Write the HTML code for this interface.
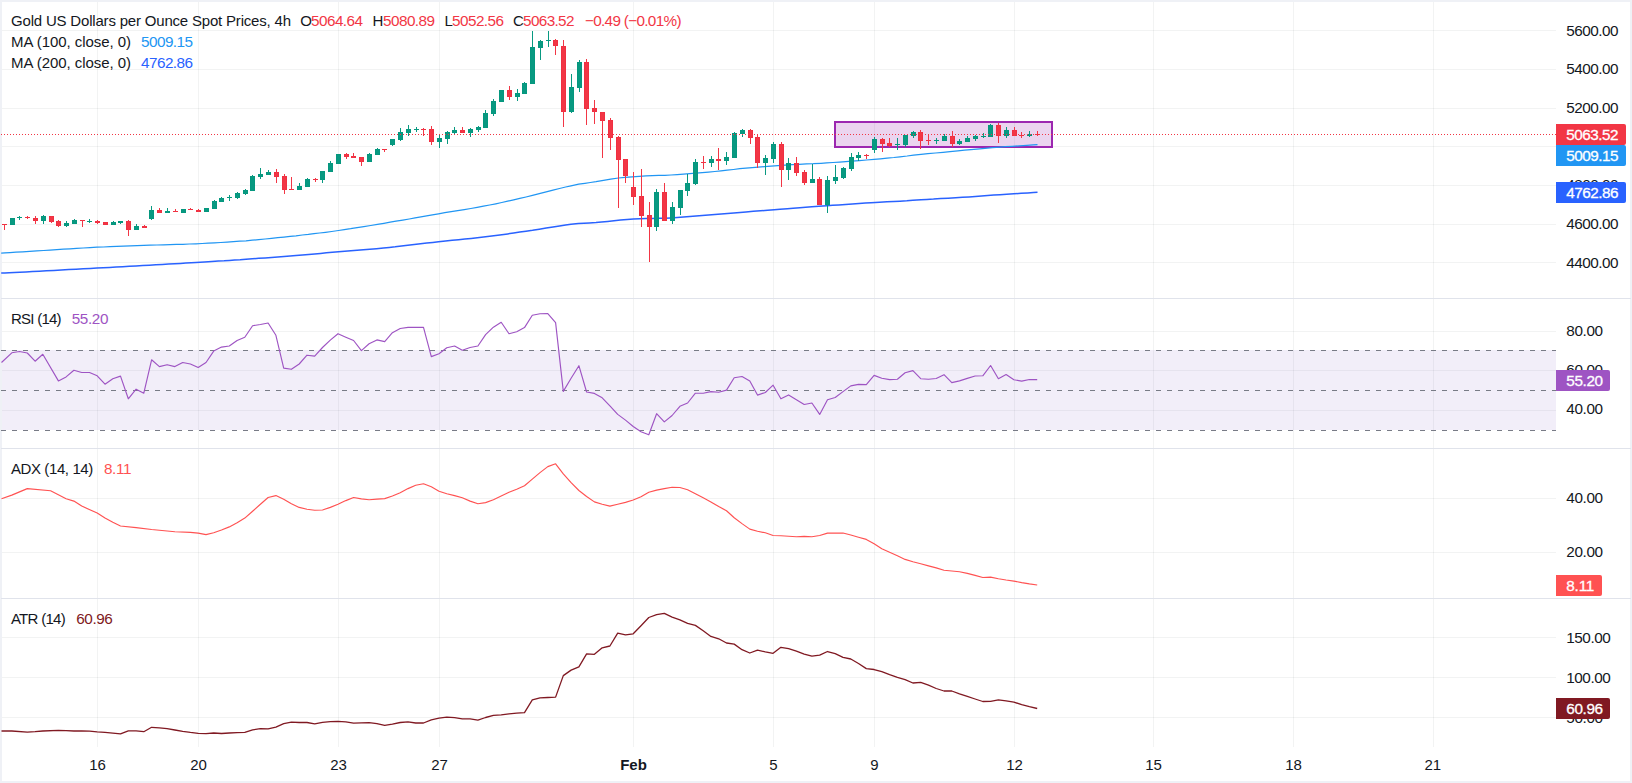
<!DOCTYPE html>
<html lang="en"><head><meta charset="utf-8"><title>Gold US Dollars per Ounce Spot Prices, 4h</title>
<style>html,body{margin:0;padding:0;background:#fff;}body{width:1632px;height:783px;overflow:hidden;}svg{display:block;}text{font-family:"Liberation Sans", sans-serif;font-size:15px;fill:#131722;stroke:#131722;stroke-width:0;}.n{font-size:15.3px;}.w{fill:#fff;stroke:#fff;stroke-width:.3px;font-size:15.3px;}.b{font-weight:bold;}</style></head><body>
<svg width="1632" height="783" viewBox="0 0 1632 783">
<rect x="0" y="0" width="1632" height="783" fill="#eff1f6"/>
<rect x="2" y="2" width="1628" height="779" fill="#ffffff"/>
<g shape-rendering="crispEdges" fill="#2a2e39" fill-opacity="0.06">
<rect x="97" y="2" width="1" height="745"/>
<rect x="198" y="2" width="1" height="745"/>
<rect x="338" y="2" width="1" height="745"/>
<rect x="439" y="2" width="1" height="745"/>
<rect x="633" y="2" width="1" height="745"/>
<rect x="773" y="2" width="1" height="745"/>
<rect x="874" y="2" width="1" height="745"/>
<rect x="1014" y="2" width="1" height="745"/>
<rect x="1153" y="2" width="1" height="745"/>
<rect x="1293" y="2" width="1" height="745"/>
<rect x="1433" y="2" width="1" height="745"/>
<rect x="2" y="30" width="1554" height="1"/>
<rect x="2" y="69" width="1554" height="1"/>
<rect x="2" y="108" width="1554" height="1"/>
<rect x="2" y="146" width="1554" height="1"/>
<rect x="2" y="185" width="1554" height="1"/>
<rect x="2" y="224" width="1554" height="1"/>
<rect x="2" y="262" width="1554" height="1"/>
<rect x="2" y="331" width="1554" height="1"/>
<rect x="2" y="370" width="1554" height="1"/>
<rect x="2" y="410" width="1554" height="1"/>
<rect x="2" y="498" width="1554" height="1"/>
<rect x="2" y="552" width="1554" height="1"/>
<rect x="2" y="637" width="1554" height="1"/>
<rect x="2" y="677" width="1554" height="1"/>
<rect x="2" y="717" width="1554" height="1"/>
</g>
<g shape-rendering="crispEdges" fill="#e0e3eb">
<rect x="1" y="298" width="1630" height="1"/>
<rect x="1" y="448" width="1630" height="1"/>
<rect x="1" y="598" width="1630" height="1"/>
</g>
<rect x="2" y="350" width="1554" height="80" fill="#7e57c2" fill-opacity="0.1" shape-rendering="crispEdges"/>
<g shape-rendering="crispEdges" stroke="#787b86" stroke-width="1" stroke-dasharray="5 6">
<line x1="1" y1="350.5" x2="1556" y2="350.5"/>
<line x1="1" y1="390.5" x2="1556" y2="390.5"/>
<line x1="1" y1="430.5" x2="1556" y2="430.5"/>
</g>
<rect x="835" y="122" width="217" height="25" fill="#9c27b0" fill-opacity="0.2" stroke="#9c27b0" stroke-width="2" shape-rendering="crispEdges"/>
<polyline points="1.2,253.2 5.0,252.9 10.0,252.6 16.0,252.2 22.7,251.8 29.7,251.4 36.8,250.9 43.7,250.5 50.0,250.1 56.8,249.7 63.4,249.2 70.0,248.8 76.5,248.4 83.2,248.0 90.0,247.6 97.0,247.2 103.4,247.0 110.0,246.7 116.7,246.4 123.6,246.1 130.4,245.9 137.1,245.7 143.7,245.4 150.0,245.2 156.9,245.0 163.5,244.8 170.0,244.6 176.4,244.4 182.8,244.3 189.3,244.0 196.0,243.8 202.1,243.5 208.2,243.2 214.5,242.8 220.8,242.5 227.1,242.1 233.4,241.7 239.7,241.2 246.0,240.8 252.3,240.2 258.7,239.6 265.1,239.0 271.5,238.4 277.8,237.7 284.0,237.1 290.1,236.4 296.0,235.8 302.3,235.0 308.3,234.4 314.0,233.7 319.6,233.0 325.5,232.3 331.7,231.5 338.5,230.5 344.3,229.6 350.6,228.7 357.1,227.6 363.8,226.6 370.7,225.5 377.4,224.4 383.9,223.3 390.2,222.2 396.0,221.2 402.8,220.1 409.2,219.0 415.1,217.9 420.9,216.9 426.6,215.8 432.4,214.8 438.5,213.8 444.8,212.7 451.2,211.7 457.7,210.6 464.3,209.6 470.8,208.5 477.2,207.4 483.5,206.2 489.7,205.0 495.8,203.8 501.8,202.5 507.7,201.2 513.7,199.8 519.8,198.4 526.0,197.0 532.5,195.4 539.3,193.7 546.2,191.9 553.0,190.2 559.5,188.5 565.6,187.0 571.0,185.8 578.7,184.2 584.9,183.3 590.4,182.5 596.0,181.7 603.5,180.4 610.7,179.1 618.5,178.0 625.1,177.3 632.1,176.8 639.2,176.3 646.0,175.9 652.4,175.6 658.7,175.4 664.8,175.3 671.0,175.0 677.2,174.6 683.5,174.1 689.8,173.6 696.0,173.1 702.2,172.6 708.5,172.1 714.8,171.5 721.0,170.9 727.2,170.2 733.5,169.5 739.8,168.7 746.0,168.1 752.2,167.6 758.3,167.1 764.5,166.7 771.0,166.2 777.9,165.7 785.2,165.2 792.4,164.7 799.0,164.3 806.5,163.9 813.3,163.7 821.0,163.3 826.7,162.9 833.0,162.5 839.5,162.1 845.8,161.6 851.5,161.2 859.5,160.6 866.5,160.0 874.0,159.4 880.4,158.8 887.1,158.1 893.8,157.5 900.0,156.8 907.1,156.0 913.6,155.1 921.0,154.3 927.9,153.6 935.5,153.0 943.1,152.3 950.0,151.7 957.8,150.9 964.6,150.2 971.0,149.6 979.8,148.8 987.5,148.1 992.4,147.7 1000.0,147.1 1005.2,146.7 1012.0,146.3 1019.5,145.8 1026.9,145.3 1033.1,144.9 1037.5,144.6" fill="none" stroke="#2196f3" stroke-width="1.25" stroke-linejoin="round" stroke-linecap="butt"/>
<polyline points="1.2,273.1 4.8,273.0 9.2,272.7 14.2,272.5 19.8,272.2 25.9,271.9 32.5,271.5 39.4,271.2 46.5,270.8 53.9,270.4 61.3,270.0 68.7,269.6 76.1,269.2 83.3,268.8 90.3,268.5 97.0,268.1 103.2,267.8 109.6,267.4 116.1,267.1 122.7,266.7 129.3,266.3 136.0,265.9 142.7,265.6 149.4,265.2 155.9,264.8 162.3,264.5 168.6,264.1 174.6,263.7 180.4,263.4 185.9,263.1 191.2,262.8 196.0,262.5 204.6,262.0 211.9,261.5 218.3,261.1 224.1,260.8 229.4,260.4 234.6,260.0 240.1,259.7 246.0,259.2 252.3,258.8 258.7,258.3 265.1,257.9 271.5,257.4 277.8,256.9 284.0,256.4 290.1,256.0 296.0,255.5 302.4,255.0 308.6,254.4 314.6,253.9 320.5,253.4 326.4,252.8 332.4,252.3 338.5,251.8 344.7,251.2 350.9,250.8 357.1,250.3 363.4,249.8 369.8,249.3 376.5,248.7 383.5,248.0 389.2,247.4 395.2,246.8 401.5,246.0 407.8,245.3 414.2,244.6 420.5,243.8 426.8,243.1 432.8,242.4 438.5,241.8 445.5,241.0 452.2,240.3 458.6,239.7 464.9,239.0 471.1,238.4 477.3,237.7 483.5,237.0 489.7,236.2 495.8,235.5 501.8,234.7 507.7,233.9 513.7,233.0 519.8,232.1 526.0,231.2 532.5,230.3 539.3,229.2 546.2,228.1 553.0,226.9 559.5,225.9 565.6,225.0 571.0,224.2 578.4,223.5 584.0,223.2 589.3,222.9 596.0,222.5 601.5,222.0 607.6,221.4 614.0,220.8 620.5,220.1 627.1,219.6 633.5,219.1 639.8,218.8 646.0,218.6 652.2,218.5 658.5,218.3 664.8,218.2 671.0,217.9 677.2,217.5 683.5,217.1 689.8,216.6 696.0,216.0 702.2,215.5 708.5,215.0 714.8,214.5 721.1,214.0 727.5,213.4 733.8,212.9 740.0,212.4 746.0,211.9 753.3,211.3 760.5,210.8 767.6,210.2 774.2,209.7 780.0,209.3 787.4,208.7 793.1,208.2 799.8,207.7 805.6,207.3 811.9,206.8 818.8,206.3 827.0,205.7 832.5,205.3 838.8,204.9 845.5,204.4 852.3,203.9 859.0,203.5 865.4,203.1 871.0,202.7 879.5,202.2 886.9,201.8 893.7,201.5 900.0,201.2 906.8,200.8 912.8,200.3 921.0,199.8 926.8,199.4 933.5,199.1 940.7,198.6 948.2,198.2 955.6,197.7 962.5,197.3 969.0,196.9 975.3,196.4 981.5,196.0 987.6,195.6 993.8,195.1 1000.0,194.7 1006.7,194.3 1013.9,193.8 1021.1,193.3 1027.8,192.9 1033.4,192.6 1037.5,192.3" fill="none" stroke="#2962ff" stroke-width="1.5" stroke-linejoin="round" stroke-linecap="butt"/>
<g shape-rendering="crispEdges">
<g fill="#05977e"><rect x="10" y="218" width="5" height="7"/><rect x="17" y="217" width="5" height="1"/><rect x="41" y="216" width="5" height="5"/><rect x="64" y="223" width="5" height="3"/><rect x="72" y="220" width="5" height="4"/><rect x="87" y="221" width="5" height="1"/><rect x="111" y="222" width="5" height="3"/><rect x="118" y="221" width="5" height="2"/><rect x="134" y="226" width="5" height="4"/><rect x="149" y="210" width="5" height="9"/><rect x="165" y="211" width="5" height="2"/><rect x="181" y="209" width="5" height="4"/><rect x="204" y="208" width="5" height="4"/><rect x="212" y="201" width="5" height="8"/><rect x="219" y="198" width="5" height="4"/><rect x="227" y="197" width="5" height="1"/><rect x="235" y="193" width="5" height="5"/><rect x="243" y="190" width="5" height="4"/><rect x="250" y="176" width="5" height="15"/><rect x="258" y="174" width="5" height="3"/><rect x="266" y="172" width="5" height="3"/><rect x="297" y="186" width="5" height="4"/><rect x="305" y="179" width="5" height="8"/><rect x="320" y="171" width="5" height="9"/><rect x="328" y="163" width="5" height="9"/><rect x="336" y="154" width="5" height="10"/><rect x="367" y="154" width="5" height="8"/><rect x="375" y="149" width="5" height="6"/><rect x="390" y="139" width="5" height="6"/><rect x="398" y="132" width="5" height="8"/><rect x="406" y="129" width="5" height="4"/><rect x="414" y="129" width="5" height="1"/><rect x="437" y="138" width="5" height="4"/><rect x="445" y="132" width="5" height="7"/><rect x="452" y="130" width="5" height="3"/><rect x="468" y="129" width="5" height="4"/><rect x="476" y="127" width="5" height="3"/><rect x="483" y="113" width="5" height="15"/><rect x="491" y="101" width="5" height="13"/><rect x="499" y="90" width="5" height="12"/><rect x="515" y="93" width="5" height="4"/><rect x="522" y="83" width="5" height="11"/><rect x="530" y="47" width="5" height="37"/><rect x="538" y="41" width="5" height="7"/><rect x="546" y="40" width="5" height="1"/><rect x="569" y="87" width="5" height="25"/><rect x="577" y="62" width="5" height="26"/><rect x="654" y="192" width="5" height="35"/><rect x="670" y="207" width="5" height="14"/><rect x="678" y="190" width="5" height="18"/><rect x="685" y="183" width="5" height="8"/><rect x="693" y="162" width="5" height="22"/><rect x="709" y="159" width="5" height="4"/><rect x="724" y="157" width="5" height="4"/><rect x="732" y="133" width="5" height="25"/><rect x="740" y="130" width="5" height="4"/><rect x="763" y="158" width="5" height="5"/><rect x="771" y="144" width="5" height="15"/><rect x="786" y="163" width="5" height="7"/><rect x="810" y="179" width="5" height="4"/><rect x="825" y="180" width="5" height="25"/><rect x="833" y="177" width="5" height="4"/><rect x="841" y="168" width="5" height="10"/><rect x="849" y="157" width="5" height="12"/><rect x="856" y="155" width="5" height="3"/><rect x="872" y="139" width="5" height="11"/><rect x="895" y="144" width="5" height="1"/><rect x="903" y="135" width="5" height="10"/><rect x="911" y="132" width="5" height="4"/><rect x="934" y="140" width="5" height="1"/><rect x="942" y="136" width="5" height="5"/><rect x="957" y="141" width="5" height="3"/><rect x="965" y="138" width="5" height="4"/><rect x="973" y="136" width="5" height="3"/><rect x="981" y="136" width="5" height="1"/><rect x="988" y="125" width="5" height="12"/><rect x="1004" y="130" width="5" height="6"/><rect x="1027" y="134" width="5" height="2"/></g>
<g fill="#089981"><rect x="11" y="219" width="3" height="5"/><rect x="42" y="217" width="3" height="3"/><rect x="65" y="224" width="3" height="1"/><rect x="73" y="221" width="3" height="2"/><rect x="112" y="223" width="3" height="1"/><rect x="135" y="227" width="3" height="2"/><rect x="150" y="211" width="3" height="7"/><rect x="182" y="210" width="3" height="2"/><rect x="205" y="209" width="3" height="2"/><rect x="213" y="202" width="3" height="6"/><rect x="220" y="199" width="3" height="2"/><rect x="236" y="194" width="3" height="3"/><rect x="244" y="191" width="3" height="2"/><rect x="251" y="177" width="3" height="13"/><rect x="259" y="175" width="3" height="1"/><rect x="267" y="173" width="3" height="1"/><rect x="298" y="187" width="3" height="2"/><rect x="306" y="180" width="3" height="6"/><rect x="321" y="172" width="3" height="7"/><rect x="329" y="164" width="3" height="7"/><rect x="337" y="155" width="3" height="8"/><rect x="368" y="155" width="3" height="6"/><rect x="376" y="150" width="3" height="4"/><rect x="391" y="140" width="3" height="4"/><rect x="399" y="133" width="3" height="6"/><rect x="407" y="130" width="3" height="2"/><rect x="438" y="139" width="3" height="2"/><rect x="446" y="133" width="3" height="5"/><rect x="453" y="131" width="3" height="1"/><rect x="469" y="130" width="3" height="2"/><rect x="477" y="128" width="3" height="1"/><rect x="484" y="114" width="3" height="13"/><rect x="492" y="102" width="3" height="11"/><rect x="500" y="91" width="3" height="10"/><rect x="516" y="94" width="3" height="2"/><rect x="523" y="84" width="3" height="9"/><rect x="531" y="48" width="3" height="35"/><rect x="539" y="42" width="3" height="5"/><rect x="570" y="88" width="3" height="23"/><rect x="578" y="63" width="3" height="24"/><rect x="655" y="193" width="3" height="33"/><rect x="671" y="208" width="3" height="12"/><rect x="679" y="191" width="3" height="16"/><rect x="686" y="184" width="3" height="6"/><rect x="694" y="163" width="3" height="20"/><rect x="710" y="160" width="3" height="2"/><rect x="725" y="158" width="3" height="2"/><rect x="733" y="134" width="3" height="23"/><rect x="741" y="131" width="3" height="2"/><rect x="764" y="159" width="3" height="3"/><rect x="772" y="145" width="3" height="13"/><rect x="787" y="164" width="3" height="5"/><rect x="811" y="180" width="3" height="2"/><rect x="826" y="181" width="3" height="23"/><rect x="834" y="178" width="3" height="2"/><rect x="842" y="169" width="3" height="8"/><rect x="850" y="158" width="3" height="10"/><rect x="857" y="156" width="3" height="1"/><rect x="873" y="140" width="3" height="9"/><rect x="904" y="136" width="3" height="8"/><rect x="912" y="133" width="3" height="2"/><rect x="943" y="137" width="3" height="3"/><rect x="958" y="142" width="3" height="1"/><rect x="966" y="139" width="3" height="2"/><rect x="974" y="137" width="3" height="1"/><rect x="989" y="126" width="3" height="10"/><rect x="1005" y="131" width="3" height="4"/><rect x="19" y="216" width="1" height="4"/><rect x="43" y="215" width="1" height="9"/><rect x="66" y="221" width="1" height="6"/><rect x="74" y="219" width="1" height="5"/><rect x="89" y="219" width="1" height="4"/><rect x="113" y="221" width="1" height="4"/><rect x="120" y="221" width="1" height="3"/><rect x="136" y="224" width="1" height="6"/><rect x="151" y="206" width="1" height="14"/><rect x="167" y="208" width="1" height="5"/><rect x="214" y="200" width="1" height="9"/><rect x="221" y="197" width="1" height="5"/><rect x="229" y="195" width="1" height="6"/><rect x="237" y="192" width="1" height="7"/><rect x="245" y="189" width="1" height="6"/><rect x="252" y="175" width="1" height="16"/><rect x="260" y="168" width="1" height="11"/><rect x="268" y="170" width="1" height="5"/><rect x="299" y="183" width="1" height="7"/><rect x="307" y="178" width="1" height="9"/><rect x="322" y="171" width="1" height="12"/><rect x="330" y="161" width="1" height="11"/><rect x="369" y="153" width="1" height="9"/><rect x="377" y="148" width="1" height="7"/><rect x="392" y="139" width="1" height="7"/><rect x="400" y="128" width="1" height="13"/><rect x="408" y="125" width="1" height="11"/><rect x="416" y="127" width="1" height="5"/><rect x="439" y="135" width="1" height="13"/><rect x="447" y="131" width="1" height="13"/><rect x="454" y="127" width="1" height="7"/><rect x="470" y="128" width="1" height="9"/><rect x="478" y="126" width="1" height="6"/><rect x="485" y="110" width="1" height="18"/><rect x="493" y="99" width="1" height="17"/><rect x="517" y="89" width="1" height="12"/><rect x="524" y="82" width="1" height="12"/><rect x="532" y="31" width="1" height="53"/><rect x="540" y="40" width="1" height="20"/><rect x="548" y="31" width="1" height="16"/><rect x="571" y="74" width="1" height="39"/><rect x="579" y="60" width="1" height="32"/><rect x="656" y="189" width="1" height="42"/><rect x="672" y="202" width="1" height="22"/><rect x="680" y="190" width="1" height="25"/><rect x="687" y="174" width="1" height="22"/><rect x="695" y="159" width="1" height="26"/><rect x="711" y="156" width="1" height="11"/><rect x="726" y="152" width="1" height="13"/><rect x="734" y="132" width="1" height="26"/><rect x="742" y="129" width="1" height="8"/><rect x="765" y="155" width="1" height="20"/><rect x="773" y="142" width="1" height="21"/><rect x="788" y="158" width="1" height="22"/><rect x="812" y="164" width="1" height="19"/><rect x="827" y="176" width="1" height="37"/><rect x="835" y="165" width="1" height="19"/><rect x="843" y="167" width="1" height="12"/><rect x="851" y="153" width="1" height="18"/><rect x="858" y="152" width="1" height="9"/><rect x="874" y="137" width="1" height="16"/><rect x="897" y="138" width="1" height="12"/><rect x="905" y="135" width="1" height="12"/><rect x="913" y="131" width="1" height="7"/><rect x="936" y="138" width="1" height="6"/><rect x="944" y="134" width="1" height="7"/><rect x="959" y="139" width="1" height="6"/><rect x="967" y="136" width="1" height="6"/><rect x="975" y="135" width="1" height="6"/><rect x="983" y="133" width="1" height="5"/><rect x="990" y="124" width="1" height="13"/><rect x="1006" y="127" width="1" height="11"/><rect x="1029" y="131" width="1" height="6"/></g>
<g fill="#f02f41"><rect x="2" y="224" width="5" height="1"/><rect x="25" y="217" width="5" height="1"/><rect x="33" y="218" width="5" height="3"/><rect x="49" y="216" width="5" height="6"/><rect x="56" y="221" width="5" height="5"/><rect x="80" y="220" width="5" height="1"/><rect x="95" y="221" width="5" height="2"/><rect x="103" y="222" width="5" height="3"/><rect x="126" y="221" width="5" height="9"/><rect x="142" y="226" width="5" height="2"/><rect x="157" y="210" width="5" height="3"/><rect x="173" y="211" width="5" height="1"/><rect x="188" y="209" width="5" height="1"/><rect x="196" y="210" width="5" height="2"/><rect x="274" y="172" width="5" height="5"/><rect x="282" y="176" width="5" height="14"/><rect x="289" y="189" width="5" height="1"/><rect x="313" y="179" width="5" height="1"/><rect x="344" y="154" width="5" height="3"/><rect x="351" y="156" width="5" height="2"/><rect x="359" y="157" width="5" height="5"/><rect x="382" y="149" width="5" height="1"/><rect x="421" y="129" width="5" height="1"/><rect x="429" y="129" width="5" height="13"/><rect x="460" y="130" width="5" height="3"/><rect x="507" y="90" width="5" height="7"/><rect x="553" y="40" width="5" height="6"/><rect x="561" y="46" width="5" height="66"/><rect x="584" y="62" width="5" height="47"/><rect x="592" y="108" width="5" height="4"/><rect x="600" y="112" width="5" height="9"/><rect x="608" y="120" width="5" height="18"/><rect x="616" y="137" width="5" height="23"/><rect x="623" y="159" width="5" height="17"/><rect x="631" y="187" width="5" height="10"/><rect x="639" y="196" width="5" height="20"/><rect x="647" y="215" width="5" height="12"/><rect x="662" y="192" width="5" height="29"/><rect x="701" y="162" width="5" height="1"/><rect x="716" y="159" width="5" height="2"/><rect x="748" y="130" width="5" height="8"/><rect x="755" y="137" width="5" height="26"/><rect x="779" y="144" width="5" height="26"/><rect x="794" y="163" width="5" height="10"/><rect x="802" y="172" width="5" height="11"/><rect x="817" y="179" width="5" height="26"/><rect x="864" y="155" width="5" height="1"/><rect x="880" y="139" width="5" height="5"/><rect x="887" y="143" width="5" height="3"/><rect x="918" y="132" width="5" height="9"/><rect x="926" y="140" width="5" height="1"/><rect x="950" y="136" width="5" height="8"/><rect x="996" y="125" width="5" height="11"/><rect x="1012" y="130" width="5" height="6"/><rect x="1019" y="135" width="5" height="1"/><rect x="1035" y="134" width="5" height="1"/></g>
<g fill="#f23645"><rect x="34" y="219" width="3" height="1"/><rect x="50" y="217" width="3" height="4"/><rect x="57" y="222" width="3" height="3"/><rect x="104" y="223" width="3" height="1"/><rect x="127" y="222" width="3" height="7"/><rect x="158" y="211" width="3" height="1"/><rect x="275" y="173" width="3" height="3"/><rect x="283" y="177" width="3" height="12"/><rect x="345" y="155" width="3" height="1"/><rect x="360" y="158" width="3" height="3"/><rect x="430" y="130" width="3" height="11"/><rect x="461" y="131" width="3" height="1"/><rect x="508" y="91" width="3" height="5"/><rect x="554" y="41" width="3" height="4"/><rect x="562" y="47" width="3" height="64"/><rect x="585" y="63" width="3" height="45"/><rect x="593" y="109" width="3" height="2"/><rect x="601" y="113" width="3" height="7"/><rect x="609" y="121" width="3" height="16"/><rect x="617" y="138" width="3" height="21"/><rect x="624" y="160" width="3" height="15"/><rect x="632" y="188" width="3" height="8"/><rect x="640" y="197" width="3" height="18"/><rect x="648" y="216" width="3" height="10"/><rect x="663" y="193" width="3" height="27"/><rect x="749" y="131" width="3" height="6"/><rect x="756" y="138" width="3" height="24"/><rect x="780" y="145" width="3" height="24"/><rect x="795" y="164" width="3" height="8"/><rect x="803" y="173" width="3" height="9"/><rect x="818" y="180" width="3" height="24"/><rect x="881" y="140" width="3" height="3"/><rect x="888" y="144" width="3" height="1"/><rect x="919" y="133" width="3" height="7"/><rect x="951" y="137" width="3" height="6"/><rect x="997" y="126" width="3" height="9"/><rect x="1013" y="131" width="3" height="4"/><rect x="4" y="224" width="1" height="6"/><rect x="27" y="216" width="1" height="3"/><rect x="35" y="216" width="1" height="8"/><rect x="51" y="216" width="1" height="7"/><rect x="58" y="220" width="1" height="7"/><rect x="82" y="220" width="1" height="7"/><rect x="97" y="220" width="1" height="4"/><rect x="128" y="220" width="1" height="16"/><rect x="144" y="225" width="1" height="3"/><rect x="159" y="208" width="1" height="5"/><rect x="175" y="209" width="1" height="3"/><rect x="190" y="208" width="1" height="2"/><rect x="198" y="209" width="1" height="3"/><rect x="276" y="169" width="1" height="14"/><rect x="284" y="174" width="1" height="20"/><rect x="291" y="177" width="1" height="13"/><rect x="315" y="178" width="1" height="4"/><rect x="346" y="153" width="1" height="6"/><rect x="353" y="153" width="1" height="5"/><rect x="361" y="157" width="1" height="9"/><rect x="384" y="149" width="1" height="3"/><rect x="423" y="128" width="1" height="8"/><rect x="431" y="126" width="1" height="19"/><rect x="462" y="127" width="1" height="6"/><rect x="509" y="86" width="1" height="14"/><rect x="555" y="39" width="1" height="16"/><rect x="563" y="40" width="1" height="87"/><rect x="586" y="59" width="1" height="66"/><rect x="594" y="100" width="1" height="24"/><rect x="602" y="112" width="1" height="46"/><rect x="610" y="118" width="1" height="32"/><rect x="618" y="136" width="1" height="72"/><rect x="625" y="159" width="1" height="24"/><rect x="633" y="172" width="1" height="33"/><rect x="641" y="169" width="1" height="58"/><rect x="649" y="202" width="1" height="60"/><rect x="664" y="183" width="1" height="38"/><rect x="703" y="156" width="1" height="13"/><rect x="718" y="148" width="1" height="22"/><rect x="750" y="129" width="1" height="15"/><rect x="757" y="134" width="1" height="34"/><rect x="781" y="142" width="1" height="45"/><rect x="796" y="157" width="1" height="19"/><rect x="804" y="170" width="1" height="15"/><rect x="819" y="177" width="1" height="28"/><rect x="866" y="154" width="1" height="5"/><rect x="882" y="138" width="1" height="14"/><rect x="889" y="138" width="1" height="9"/><rect x="920" y="130" width="1" height="19"/><rect x="928" y="134" width="1" height="11"/><rect x="952" y="131" width="1" height="16"/><rect x="998" y="123" width="1" height="20"/><rect x="1014" y="127" width="1" height="9"/><rect x="1021" y="132" width="1" height="6"/><rect x="1037" y="131" width="1" height="5"/></g>
</g>
<line x1="1" y1="134.5" x2="1556" y2="134.5" stroke="#f23645" stroke-width="1" stroke-dasharray="1 2" shape-rendering="crispEdges"/>
<polyline points="1.5,362.5 11.8,352.8 19.5,351.5 27.3,353.0 35.1,361.2 42.8,354.3 58.4,380.9 66.1,376.9 73.9,370.3 81.7,372.5 89.5,372.5 97.2,375.8 105.0,384.2 112.8,378.7 120.5,376.1 128.3,398.8 136.1,389.2 143.8,393.2 151.6,359.8 159.4,366.6 167.1,364.7 174.9,366.6 182.7,362.5 190.4,364.0 198.2,367.5 206.0,362.5 213.7,351.1 221.5,347.1 229.3,346.0 237.1,340.5 244.8,337.2 252.6,325.7 260.4,324.5 268.1,323.0 275.9,335.3 283.7,368.1 291.4,369.3 299.2,364.0 307.0,355.2 314.7,356.1 322.5,347.5 330.3,340.1 338.0,333.7 345.8,337.2 353.6,340.5 361.4,350.6 369.1,343.8 376.9,339.9 384.7,341.6 392.4,332.7 400.2,328.5 408.0,327.4 415.7,327.2 423.5,327.4 431.3,356.6 439.0,353.7 446.8,347.8 454.6,346.0 462.3,350.2 470.1,347.5 477.9,346.0 485.6,334.6 493.4,327.2 501.2,322.3 509.0,333.7 516.7,331.8 524.5,327.6 532.3,315.3 540.0,313.8 547.8,313.6 555.6,322.6 563.3,391.4 571.1,378.2 578.9,365.7 586.6,392.0 594.4,393.4 602.2,397.8 609.9,405.8 617.7,414.4 625.5,420.1 633.2,426.5 641.0,431.7 648.8,434.8 656.6,413.7 664.3,421.9 672.1,415.5 679.9,406.3 687.6,403.0 695.4,393.2 703.2,393.2 710.9,391.6 718.7,392.3 726.5,390.1 734.2,377.8 742.0,376.5 749.8,380.9 757.5,395.1 765.3,392.5 773.1,385.2 780.9,398.8 788.6,394.9 796.4,399.7 804.2,404.5 811.9,403.0 819.7,414.4 827.5,399.7 835.2,397.5 843.0,391.6 850.8,385.9 858.5,384.4 866.3,384.6 874.1,375.4 881.8,378.2 889.6,379.6 897.4,379.3 905.1,372.8 912.9,370.6 920.7,378.7 928.5,379.3 936.2,378.5 944.0,374.7 951.8,382.6 959.5,380.9 967.3,378.4 975.1,376.0 982.8,375.8 990.6,365.5 998.4,378.7 1006.1,374.5 1013.9,379.8 1021.7,381.1 1029.4,379.5 1037.2,379.6" fill="none" stroke="#9e54c3" stroke-width="1.15" stroke-linejoin="round" stroke-linecap="butt"/>
<polyline points="1.5,498.7 11.8,495.1 27.3,488.6 50.6,490.8 66.1,498.7 73.9,501.1 81.7,506.1 97.2,513.1 105.0,518.1 112.8,522.3 120.5,526.0 136.1,527.6 151.6,529.5 174.9,531.7 190.4,532.4 198.2,533.1 206.0,534.6 213.7,532.8 221.5,530.0 229.3,526.9 237.1,522.7 244.8,518.1 252.6,511.2 260.4,504.3 268.1,497.5 275.9,495.6 283.7,499.3 291.4,503.7 299.2,507.4 307.0,509.2 314.7,510.3 322.5,510.0 330.3,507.4 338.0,504.3 345.8,500.6 353.6,497.5 361.4,498.9 369.1,499.7 376.9,499.1 384.7,498.6 392.4,496.0 400.2,492.7 408.0,488.6 415.7,485.3 423.5,483.8 431.3,486.8 439.0,491.2 446.8,493.8 454.6,495.6 462.3,497.8 470.1,501.1 477.9,503.7 485.6,502.6 493.4,499.7 501.2,496.0 509.0,492.3 516.7,489.2 524.5,485.7 532.3,479.1 540.0,472.6 547.8,466.6 555.6,463.8 563.3,473.9 571.1,482.7 578.9,490.5 586.6,496.5 594.4,501.9 602.2,504.3 609.9,506.1 617.7,504.3 625.5,502.4 633.2,500.0 641.0,496.7 648.8,492.3 656.6,490.1 664.3,488.6 672.1,487.3 679.9,487.5 687.6,489.7 695.4,493.8 703.2,497.8 710.9,501.9 718.7,506.6 726.5,510.7 734.2,517.7 742.0,523.6 749.8,529.1 757.5,531.3 765.3,532.8 773.1,535.5 780.9,535.7 788.6,536.3 796.4,536.8 804.2,536.4 811.9,536.8 819.7,535.5 827.5,533.1 835.2,533.1 843.0,533.0 850.8,535.0 858.5,537.2 866.3,539.4 874.1,543.8 881.8,548.8 889.6,552.3 897.4,555.8 905.1,559.4 912.9,561.8 920.7,563.8 928.5,565.9 936.2,567.9 944.0,570.3 951.8,571.0 959.5,571.8 967.3,573.4 975.1,575.4 982.8,577.5 990.6,577.1 998.4,578.7 1006.1,580.0 1013.9,581.1 1021.7,582.6 1029.4,583.9 1037.2,585.0" fill="none" stroke="#ff5252" stroke-width="1.15" stroke-linejoin="round" stroke-linecap="butt"/>
<polyline points="1.5,731.0 11.8,731.0 27.3,732.2 35.1,731.7 42.8,731.0 58.4,730.4 66.1,730.6 73.9,731.0 81.7,730.8 89.5,731.1 97.2,731.9 105.0,732.4 112.8,733.2 120.5,733.9 128.3,730.8 136.1,730.8 143.8,731.7 151.6,727.3 159.4,727.8 167.1,728.7 174.9,730.0 182.7,731.3 190.4,732.4 198.2,733.3 206.0,733.7 213.7,733.0 221.5,733.5 229.3,733.0 237.1,732.6 244.8,732.4 252.6,729.9 260.4,728.6 268.1,728.9 275.9,727.1 283.7,723.6 291.4,722.1 299.2,722.5 307.0,722.5 314.7,723.8 322.5,722.3 330.3,721.6 338.0,721.4 345.8,721.9 353.6,723.2 361.4,722.9 369.1,722.7 376.9,723.6 384.7,725.3 392.4,724.1 400.2,722.5 408.0,721.8 415.7,723.0 423.5,723.0 431.3,719.9 439.0,718.1 446.8,717.2 454.6,717.7 462.3,718.8 470.1,718.8 477.9,720.1 485.6,717.5 493.4,715.3 501.2,714.8 509.0,713.8 516.7,713.1 524.5,712.6 532.3,699.9 540.0,697.8 547.8,697.5 555.6,697.1 563.3,675.6 571.1,670.1 578.9,666.8 586.6,653.9 594.4,654.3 602.2,647.8 609.9,646.0 617.7,633.1 625.5,634.8 633.2,633.8 641.0,625.7 648.8,617.5 656.6,614.7 664.3,613.4 672.1,617.1 679.9,619.9 687.6,623.4 695.4,625.4 703.2,630.7 710.9,636.4 718.7,638.8 726.5,643.0 734.2,644.1 742.0,649.7 749.8,653.0 757.5,650.2 765.3,651.9 773.1,653.3 780.9,647.3 788.6,648.6 796.4,651.1 804.2,654.1 811.9,656.1 819.7,655.2 827.5,651.5 835.2,653.7 843.0,657.4 850.8,659.0 858.5,663.5 866.3,668.6 874.1,669.5 881.8,671.7 889.6,674.7 897.4,677.4 905.1,679.6 912.9,683.0 920.7,682.4 928.5,685.2 936.2,688.5 944.0,691.0 951.8,691.0 959.5,693.8 967.3,696.4 975.1,699.0 982.8,701.5 990.6,701.3 998.4,699.9 1006.1,700.8 1013.9,702.1 1021.7,704.7 1029.4,706.7 1037.2,708.5" fill="none" stroke="#801922" stroke-width="1.3" stroke-linejoin="round" stroke-linecap="butt"/>
<text x="1566.3" y="35.6" textLength="52.2" lengthAdjust="spacing" class="n">5600.00</text>
<text x="1566.3" y="74.3" textLength="52.2" lengthAdjust="spacing" class="n">5400.00</text>
<text x="1566.3" y="113.0" textLength="52.2" lengthAdjust="spacing" class="n">5200.00</text>
<text x="1566.3" y="151.7" textLength="52.2" lengthAdjust="spacing" class="n">5000.00</text>
<text x="1566.3" y="190.4" textLength="52.2" lengthAdjust="spacing" class="n">4800.00</text>
<text x="1566.3" y="229.1" textLength="52.2" lengthAdjust="spacing" class="n">4600.00</text>
<text x="1566.3" y="267.8" textLength="52.2" lengthAdjust="spacing" class="n">4400.00</text>
<text x="1566.3" y="335.5" textLength="36.8" lengthAdjust="spacing" class="n">80.00</text>
<text x="1566.3" y="374.9" textLength="36.8" lengthAdjust="spacing" class="n">60.00</text>
<text x="1566.3" y="414.4" textLength="36.8" lengthAdjust="spacing" class="n">40.00</text>
<text x="1566.3" y="503.0" textLength="36.8" lengthAdjust="spacing" class="n">40.00</text>
<text x="1566.3" y="557.4" textLength="36.8" lengthAdjust="spacing" class="n">20.00</text>
<text x="1566.3" y="642.9" textLength="44.4" lengthAdjust="spacing" class="n">150.00</text>
<text x="1566.3" y="682.9" textLength="44.4" lengthAdjust="spacing" class="n">100.00</text>
<text x="1566.3" y="722.9" textLength="36.8" lengthAdjust="spacing" class="n">50.00</text>
<path d="M1556 124 H1624 Q1626 124 1626 126 V143 Q1626 145 1624 145 H1556 Z" fill="#f23645"/>
<text x="1566.3" y="139.7" textLength="52.2" lengthAdjust="spacing" class="w">5063.52</text>
<path d="M1556 145 H1624 Q1626 145 1626 147 V164 Q1626 166 1624 166 H1556 Z" fill="#2196f3"/>
<text x="1566.3" y="160.7" textLength="52.2" lengthAdjust="spacing" class="w">5009.15</text>
<path d="M1556 182 H1624 Q1626 182 1626 184 V201 Q1626 203 1624 203 H1556 Z" fill="#2962ff"/>
<text x="1566.3" y="197.7" textLength="52.2" lengthAdjust="spacing" class="w">4762.86</text>
<path d="M1556 370 H1608 Q1610 370 1610 372 V389 Q1610 391 1608 391 H1556 Z" fill="#9e54c3"/>
<text x="1566.3" y="385.7" textLength="36.8" lengthAdjust="spacing" class="w">55.20</text>
<path d="M1556 575 H1600 Q1602 575 1602 577 V594 Q1602 596 1600 596 H1556 Z" fill="#ff5252"/>
<text x="1566.3" y="590.7" textLength="28.0" lengthAdjust="spacing" class="w">8.11</text>
<path d="M1556 698 H1608 Q1610 698 1610 700 V717 Q1610 719 1608 719 H1556 Z" fill="#801922"/>
<text x="1566.3" y="713.7" textLength="36.8" lengthAdjust="spacing" class="w">60.96</text>
<text x="11.0" y="25.7" textLength="280.0" lengthAdjust="spacing">Gold US Dollars per Ounce Spot Prices, 4h</text>
<text x="300.3" y="25.7">O</text>
<text x="311.0" y="25.7" style="fill:#f23645;stroke:#f23645" class="n" textLength="52.0" lengthAdjust="spacing">5064.64</text>
<text x="372.4" y="25.7">H</text>
<text x="383.0" y="25.7" style="fill:#f23645;stroke:#f23645" class="n" textLength="52.0" lengthAdjust="spacing">5080.89</text>
<text x="444.5" y="25.7">L</text>
<text x="452.0" y="25.7" style="fill:#f23645;stroke:#f23645" class="n" textLength="52.0" lengthAdjust="spacing">5052.56</text>
<text x="512.9" y="25.7">C</text>
<text x="523.0" y="25.7" style="fill:#f23645;stroke:#f23645" class="n" textLength="51.5" lengthAdjust="spacing">5063.52</text>
<text x="585.0" y="25.7" style="fill:#f23645;stroke:#f23645" class="n" textLength="96.5" lengthAdjust="spacing">−0.49 (−0.01%)</text>
<text x="11.0" y="46.8" textLength="120.0" lengthAdjust="spacing">MA (100, close, 0)</text>
<text x="141.0" y="46.8" style="fill:#2196f3;stroke:#2196f3" class="n" textLength="52.0" lengthAdjust="spacing">5009.15</text>
<text x="11.0" y="68.0" textLength="120.0" lengthAdjust="spacing">MA (200, close, 0)</text>
<text x="141.0" y="68.0" style="fill:#2962ff;stroke:#2962ff" class="n" textLength="52.0" lengthAdjust="spacing">4762.86</text>
<text x="11.0" y="323.6" textLength="50.6" lengthAdjust="spacing">RSI (14)</text>
<text x="71.7" y="323.6" style="fill:#9e54c3;stroke:#9e54c3" class="n" textLength="36.8" lengthAdjust="spacing">55.20</text>
<text x="10.9" y="473.6" textLength="82.4" lengthAdjust="spacing">ADX (14, 14)</text>
<text x="103.9" y="473.6" style="fill:#ff5252;stroke:#ff5252" class="n" textLength="27.6" lengthAdjust="spacing">8.11</text>
<text x="10.9" y="623.6" textLength="54.8" lengthAdjust="spacing">ATR (14)</text>
<text x="76.3" y="623.6" style="fill:#801922;stroke:#801922" class="n" textLength="36.4" lengthAdjust="spacing">60.96</text>
<text x="97.5" y="770" text-anchor="middle">16</text>
<text x="198.5" y="770" text-anchor="middle">20</text>
<text x="338.5" y="770" text-anchor="middle">23</text>
<text x="439.5" y="770" text-anchor="middle">27</text>
<text x="773.5" y="770" text-anchor="middle">5</text>
<text x="874.5" y="770" text-anchor="middle">9</text>
<text x="1014.5" y="770" text-anchor="middle">12</text>
<text x="1153.5" y="770" text-anchor="middle">15</text>
<text x="1293.5" y="770" text-anchor="middle">18</text>
<text x="1432.8" y="770" text-anchor="middle">21</text>
<text x="633.5" y="770" text-anchor="middle" class="b">Feb</text>
</svg></body></html>
